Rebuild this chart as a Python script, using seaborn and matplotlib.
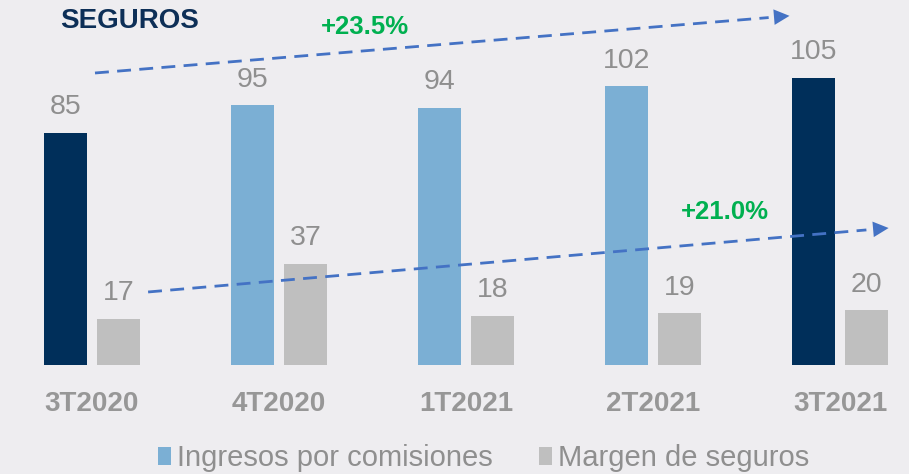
import pandas as pd
import seaborn as sns
import matplotlib.pyplot as plt

# DATOS DEL GRAFICO
trimestres = ["3T2020", "4T2020", "1T2021", "2T2021", "3T2021"]
comisiones = [85, 95, 94, 102, 105]
margen = [17, 37, 18, 19, 20]
series = ["Ingresos por comisiones", "Margen de seguros"]
crec_comisiones = "+23.5%"
crec_margen = "+21.0%"

AZUL_CLARO = "#7bafd4"
AZUL_OSCURO = "#002f5a"
GRIS = "#bfbfbf"
TEXTO = "#8f8f8f"
VERDE = "#00b050"
FLECHA = "#4472c4"
FONDO = "#eeedf0"

sns.set_style("white")
plt.rcParams["font.family"] = ["Liberation Sans", "DejaVu Sans"]

df = pd.DataFrame({
    "trimestre": trimestres * 2,
    "serie": [series[0]] * len(trimestres) + [series[1]] * len(trimestres),
    "valor": comisiones + margen,
})

fig = plt.figure(figsize=(9.09, 4.74), dpi=100, facecolor=FONDO)
ax = fig.add_axes([0, 0.23, 1, 0.77])
ax.set_facecolor(FONDO)

sns.barplot(data=df, x="trimestre", y="valor", hue="serie", order=trimestres,
            hue_order=series, palette={series[0]: AZUL_CLARO, series[1]: GRIS},
            width=0.567, gap=0.2, saturation=1, linewidth=0, ax=ax)

# PRIMER Y ULTIMO TRIMESTRE EN AZUL OSCURO
for i in (0, len(trimestres) - 1):
    ax.containers[0].patches[i].set_facecolor(AZUL_OSCURO)

for cont in ax.containers:
    ax.bar_label(cont, padding=9, fontsize=20.5, color=TEXTO)

ax.set_xlim(-0.492, 4.369)
ax.set_ylim(0, 133.5)
ax.set_xlabel("")
ax.set_ylabel("")
ax.set_yticks([])
ax.tick_params(axis="x", length=0, pad=19)
for lbl in ax.get_xticklabels():
    lbl.set_fontsize(20)
    lbl.set_fontweight("bold")
    lbl.set_color("#979797")
sns.despine(ax=ax, left=True, bottom=True)

# LEYENDA
handles, labels = ax.get_legend_handles_labels()
ax.get_legend().remove()
fig.legend(handles, labels, loc="center", bbox_to_anchor=(0.532, 0.033), ncol=2,
           frameon=False, fontsize=21, labelcolor=TEXTO, handlelength=0.45,
           handleheight=0.55, handletextpad=0.2, columnspacing=1.6)

# TITULO
fig.text(0.066, 0.955, "SEGUROS", fontsize=20, fontweight="bold", color="#0d2f57",
         ha="left", va="center")


def flecha(x0, y0, x1, y1):
    ax.plot([x0, x0 + 0.97 * (x1 - x0)], [y0, y0 + 0.97 * (y1 - y0)],
            color=FLECHA, lw=2.0, ls=(0, (5, 3)), solid_capstyle="butt")
    ax.annotate("", xy=(x1, y1), xytext=(x0 + 0.95 * (x1 - x0), y0 + 0.95 * (y1 - y0)),
                arrowprops=dict(arrowstyle="-|>,head_length=0.8,head_width=0.4",
                                color=FLECHA, lw=0, mutation_scale=14,
                                shrinkA=0, shrinkB=0))


# FLECHAS DE CRECIMIENTO
flecha(0.016, 106.8, 3.73, 127.7)
flecha(0.30, 26.7, 4.26, 50.1)
ax.text(1.46, 123.7, crec_comisiones, fontsize=18.5, fontweight="bold", color=VERDE,
        ha="center", va="center")
ax.text(3.385, 56, crec_margen, fontsize=18.5, fontweight="bold", color=VERDE,
        ha="center", va="center")

fig.savefig("out.png", dpi=100, facecolor=FONDO)
